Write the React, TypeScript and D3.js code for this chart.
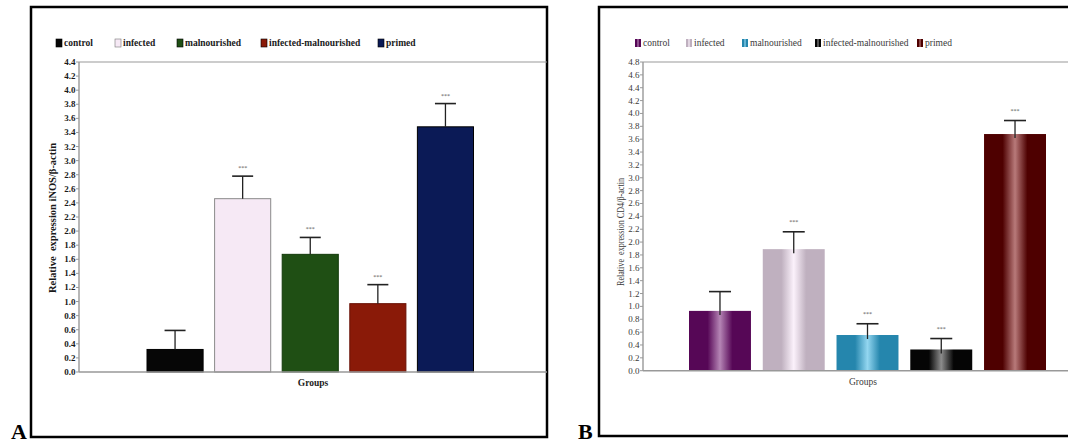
import React from "react";
import * as d3 from "d3";

const groups = ["control", "infected", "malnourished", "infected-malnourished", "primed"];

// panel A: iNOS
const inosMeans = [0.32, 2.46, 1.67, 0.97, 3.48];
const inosErrors = [0.27, 0.32, 0.24, 0.27, 0.33];
const inosStars = ["", "***", "***", "***", "***"];
const inosTicks = d3.range(0, 4.41, 0.2);

// panel B: CD4
const cd4Means = [0.93, 1.89, 0.555, 0.33, 3.68];
const cd4Errors = [0.3, 0.27, 0.175, 0.17, 0.21];
const cd4Stars = ["", "***", "***", "***", "***"];
const cd4Ticks = d3.range(0, 4.81, 0.2);

const serif = "'Liberation Serif', 'DejaVu Serif', serif";
const fmt = d3.format(".1f");

// flat colours for A, [edge, centre] gradients for B
const flatFill = ["#060606", "#f6e9f5", "#1f4f14", "#8a1a08", "#0b1a56"];
const flatStroke = ["#000", "#8a8a8a", "#133a0b", "#6a1206", "#000"];
const shadeB = [
  ["#560756", "#b585b5"],
  ["#bfb0bf", "#fbf1fb"],
  ["#2586ad", "#93d6f0"],
  ["#050505", "#8c8c8c"],
  ["#4e0000", "#b87a7a"],
];

type PanelProps = {
  means: number[];
  errors: number[];
  stars: string[];
  ticks: number[];
  yMax: number;
  yTop: number;
  yBottom: number;
  axisX: number;
  plotRight: number;
  barRange: [number, number];
  padInner: number;
  frame: [number, number, number, number];
  legendX: number[];
  legendY: number;
  yLabel: string;
  yLabelPos: [number, number];
  yLabelLen: number;
  groupsPos: [number, number];
  letter: string;
  letterX: number;
  bold: boolean;
  gradient: boolean;
  id: string;
};

function Panel(p: PanelProps) {
  const y = d3.scaleLinear().domain([0, p.yMax]).range([p.yBottom, p.yTop]);
  const x = d3.scaleBand<string>().domain(groups).range(p.barRange).paddingInner(p.padInner).paddingOuter(0);
  const weight = p.bold ? "bold" : "normal";
  const textCol = p.bold ? "#1a1a1a" : "#3a3a3a";
  const fillFor = (i: number) => (p.gradient ? `url(#${p.id}-g${i})` : flatFill[i]);
  const cap = p.bold ? 10.5 : 11;
  const [fx, fy, fw, fh] = p.frame;

  return (
    <g>
      {p.gradient && (
        <defs>
          {shadeB.map((c, i) => (
            <linearGradient key={i} id={`${p.id}-g${i}`} x1="0" x2="1" y1="0" y2="0">
              <stop offset="0" stopColor={c[0]} />
              <stop offset="0.3" stopColor={c[0]} />
              <stop offset="0.5" stopColor={c[1]} />
              <stop offset="0.7" stopColor={c[0]} />
              <stop offset="1" stopColor={c[0]} />
            </linearGradient>
          ))}
        </defs>
      )}
      <rect x={fx} y={fy} width={fw} height={fh} fill="#fff" stroke="#000" strokeWidth={2.5} />

      {/* legend */}
      {groups.map((g, i) => (
        <g key={g}>
          <rect
            x={p.legendX[i]}
            y={p.legendY - 4}
            width={6}
            height={8}
            fill={fillFor(i)}
            stroke={p.gradient ? "none" : i === 1 ? "#777" : "#000"}
            strokeWidth={0.6}
          />
          <text x={p.legendX[i] + 8} y={p.legendY + 3} fontFamily={serif} fontSize={9.5} fontWeight={weight} fill={textCol}>
            {g}
          </text>
        </g>
      ))}

      {/* bars */}
      {p.means.map((m, i) => {
        const bx = x(groups[i]) as number;
        const bw = x.bandwidth();
        const cx = bx + bw / 2;
        const top = y(m);
        const eTop = y(m + p.errors[i]);
        return (
          <g key={i}>
            <rect
              x={bx}
              y={top}
              width={bw}
              height={p.yBottom - top}
              fill={fillFor(i)}
              stroke={p.gradient ? "none" : flatStroke[i]}
              strokeWidth={1}
            />
            <line x1={cx} x2={cx} y1={eTop} y2={top + (p.gradient ? 4 : 0)} stroke="#222" strokeWidth={1.3} />
            <line x1={cx - cap} x2={cx + cap} y1={eTop} y2={eTop} stroke="#222" strokeWidth={1.6} />
            {p.stars[i] && (
              <text x={cx} y={eTop - (p.bold ? 6 : 8)} textAnchor="middle" fontFamily={serif} fontSize={6} fill="#555">
                {p.stars[i]}
              </text>
            )}
          </g>
        );
      })}

      {/* axes */}
      <line x1={p.axisX} x2={p.plotRight} y1={p.yTop} y2={p.yTop} stroke="#999" strokeWidth={1.2} />
      <line x1={p.axisX} x2={p.plotRight} y1={p.yBottom} y2={p.yBottom} stroke="#999" strokeWidth={1.4} />
      <line x1={p.axisX} x2={p.axisX} y1={p.yTop} y2={p.yBottom} stroke="#999" strokeWidth={1.4} />
      {p.ticks.map((t) => (
        <g key={t} transform={`translate(0,${y(t)})`}>
          <line x1={p.axisX - 3} x2={p.axisX} stroke="#999" strokeWidth={1} />
          <text
            x={p.axisX - 3.5}
            dy="0.33em"
            textAnchor="end"
            fontFamily={serif}
            fontSize={9}
            fontWeight={weight}
            fill={textCol}
          >
            {fmt(t)}
          </text>
        </g>
      ))}

      <text
        transform={`translate(${p.yLabelPos[0]},${p.yLabelPos[1]}) rotate(-90)`}
        textAnchor="middle"
        fontFamily={serif}
        fontSize={p.bold ? 10.5 : 9.5}
        fontWeight={weight}
        fill={textCol}
        textLength={p.yLabelLen}
        lengthAdjust="spacingAndGlyphs"
        style={{ whiteSpace: "pre" }}
      >
        {p.yLabel}
      </text>
      <text
        x={p.groupsPos[0]}
        y={p.groupsPos[1]}
        textAnchor="middle"
        fontFamily={serif}
        fontSize={9.5}
        fontWeight={weight}
        fill={textCol}
      >
        Groups
      </text>
      <text x={p.letterX} y={439} fontFamily={serif} fontSize={22} fontWeight="bold" fill="#000">
        {p.letter}
      </text>
    </g>
  );
}

export default function App() {
  return (
    <svg
      width={1068}
      height={443}
      style={{ position: "absolute", left: 0, top: 0, display: "block", background: "#fff" }}
    >
      <Panel
        id="a"
        means={inosMeans}
        errors={inosErrors}
        stars={inosStars}
        ticks={inosTicks}
        yMax={4.4}
        yTop={62}
        yBottom={372}
        axisX={79}
        plotRight={547}
        barRange={[147, 473.5]}
        padInner={0.17}
        frame={[31, 7, 516, 430]}
        legendX={[56, 115, 177, 261, 378]}
        legendY={43}
        yLabel="Relative  expression iNOS/β-actin"
        yLabelPos={[56, 218]}
        yLabelLen={150}
        groupsPos={[313, 386]}
        letter="A"
        letterX={11}
        bold={true}
        gradient={false}
      />
      <Panel
        id="b"
        means={cd4Means}
        errors={cd4Errors}
        stars={cd4Stars}
        ticks={cd4Ticks}
        yMax={4.8}
        yTop={62}
        yBottom={370.7}
        axisX={643}
        plotRight={1068}
        barRange={[689, 1046]}
        padInner={0.16}
        frame={[599, 7, 480, 429]}
        legendX={[635, 686, 742, 815, 917]}
        legendY={43}
        yLabel="Relative  expression CD4/β-actin"
        yLabelPos={[624, 232]}
        yLabelLen={108}
        groupsPos={[863, 385]}
        letter="B"
        letterX={578}
        bold={false}
        gradient={true}
      />
    </svg>
  );
}
